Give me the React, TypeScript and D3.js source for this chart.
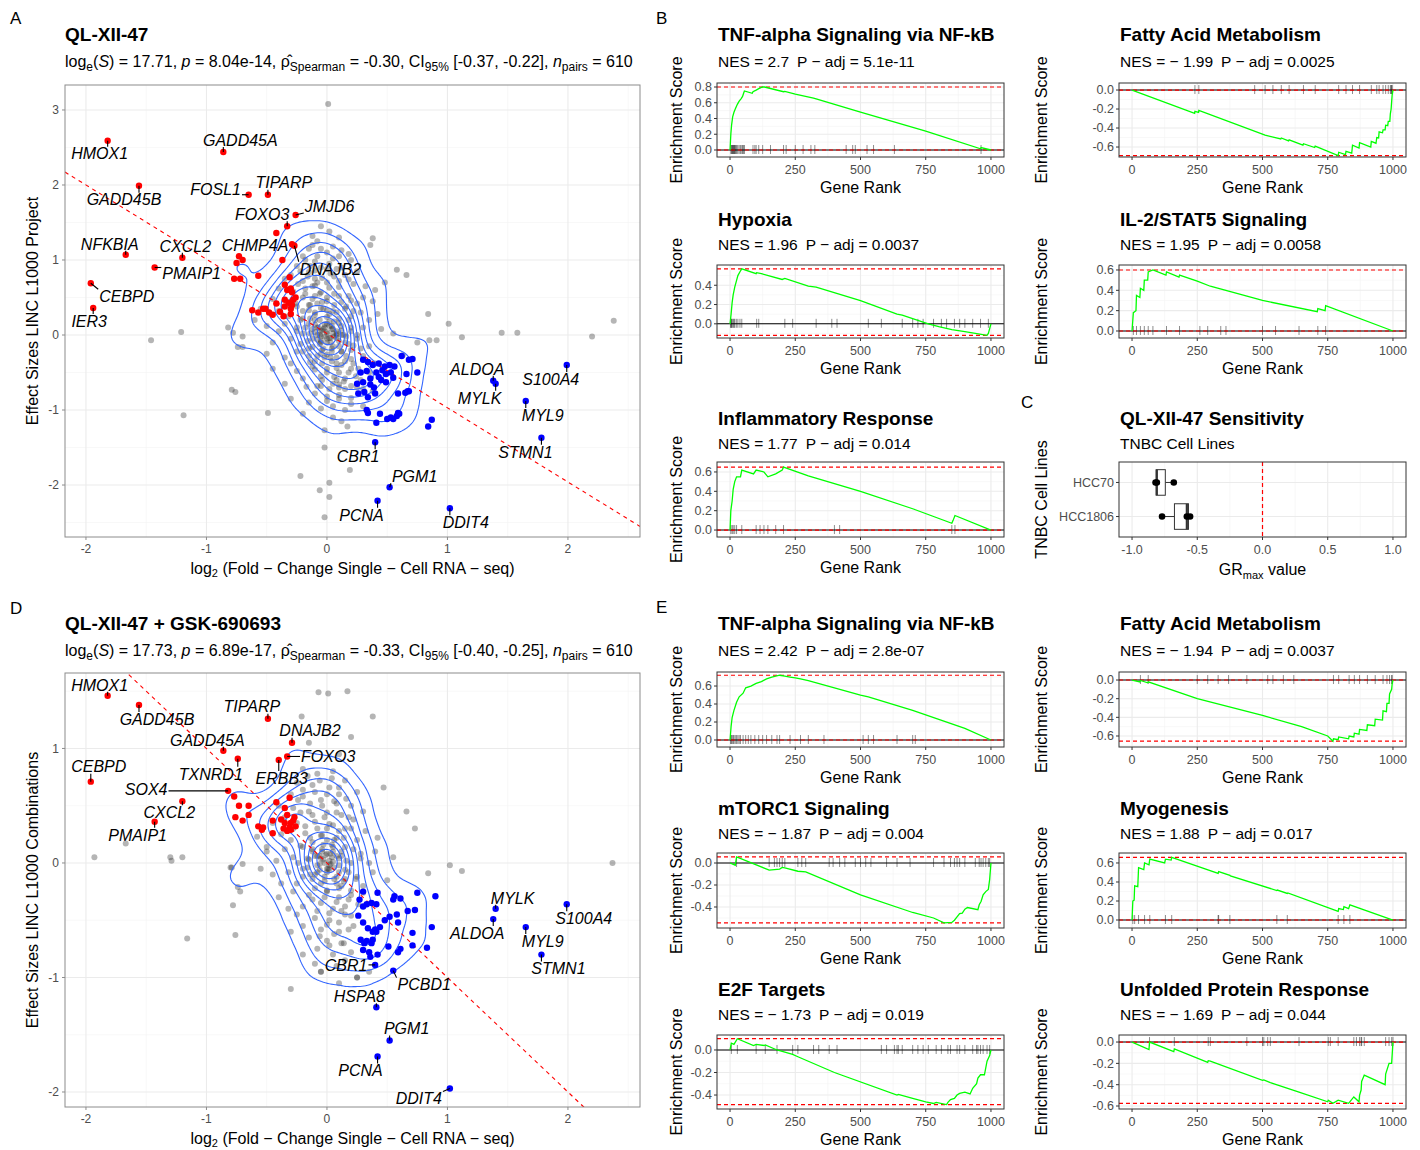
import React from 'react';
import * as d3 from 'd3';

type Pt = [number, number];
const FONT = "'Liberation Sans', Arial, Helvetica, sans-serif";

// ---------------- Panel A data ----------------
const grayA: Pt[] = [
  [-0.05,1.45],[0.02,1.38],[-0.12,1.32],[0.1,1.3],[0.38,1.29],[0.36,1.2],[-0.08,1.25],
  [0.12,1.13],[-0.15,1.15],[0.0,1.1],[-0.2,1.05],[0.05,1.02],[0.2,1.0],[-0.1,0.98],[0.18,1.08],
  [-0.25,0.92],[-0.05,0.9],[0.08,0.88],[0.25,0.85],[-0.15,0.84],[0.58,0.87],[0.66,0.8],[0.03,0.82],[-0.3,0.8],[0.15,0.8],
  [0.48,0.7],[-0.35,0.75],[-0.2,0.72],[-0.08,0.7],[0.1,0.72],[0.22,0.68],[0.32,0.65],[-0.12,0.65],[0.02,0.63],[-0.4,0.62],[0.4,0.6],
  [-0.28,0.58],[-0.18,0.55],[-0.05,0.57],[0.06,0.55],[0.18,0.52],[0.3,0.5],[-0.45,0.48],[-0.3,0.45],[-0.12,0.48],[0.0,0.45],[0.12,0.44],[0.25,0.42],[0.38,0.45],[-0.08,0.42],
  [-0.55,0.35],[-0.4,0.32],[-0.25,0.38],[-0.15,0.33],[-0.05,0.36],[0.05,0.32],[0.15,0.35],[0.28,0.3],[0.42,0.28],[0.84,0.28],[-0.32,0.25],[-0.2,0.22],[-0.1,0.27],[0.0,0.24],[0.1,0.22],[0.2,0.25],[0.35,0.2],[1.01,0.15],[-0.6,0.2],
  [-0.82,0.1],[-0.78,0.03],[-0.5,0.12],[-0.35,0.15],[-0.25,0.1],[-0.15,0.15],[-0.08,0.1],[-0.02,0.14],[0.04,0.08],[0.12,0.12],[0.2,0.05],[0.3,0.1],[0.45,0.08],[-0.4,0.05],[-0.2,0.02],[-0.1,0.04],[0.0,0.02],[0.08,0.0],[0.16,-0.02],[0.55,0.02],[1.12,-0.03],[1.45,0.03],[1.58,0.03],[2.2,-0.02],[2.38,0.19],[0.85,-0.07],[0.91,-0.07],[-1.21,0.04],[-1.46,-0.07],[-0.7,-0.02],
  [-0.74,-0.16],[-0.7,-0.16],[-0.45,-0.1],[-0.3,-0.05],[-0.22,-0.12],[-0.12,-0.05],[-0.05,-0.1],[0.02,-0.04],[0.1,-0.08],[0.18,-0.12],[0.25,-0.05],[0.35,-0.15],[0.75,-0.1],[-0.05,-0.02],[0.05,-0.15],[-0.15,-0.18],
  [-0.5,-0.25],[-0.35,-0.3],[-0.25,-0.22],[-0.15,-0.28],[-0.05,-0.25],[0.03,-0.3],[0.12,-0.22],[0.2,-0.32],[0.3,-0.28],[0.63,-0.27],[-0.1,-0.35],[0.08,-0.38],[-0.3,-0.38],[0.4,-0.38],
  [-0.45,-0.45],[-0.25,-0.48],[-0.12,-0.42],[0.0,-0.45],[0.1,-0.5],[0.2,-0.45],[0.35,-0.5],[-0.05,-0.55],[0.15,-0.58],[-0.2,-0.58],[0.28,-0.6],
  [-0.79,-0.73],[-0.76,-0.76],[-0.35,-0.65],[-0.17,-0.69],[-0.05,-0.68],[0.05,-0.65],[0.15,-0.72],[0.25,-0.7],[-0.1,-0.78],[0.38,-0.75],
  [-0.3,-0.85],[-0.15,-0.9],[0.0,-0.88],[0.1,-0.85],[0.2,-0.92],[-0.05,-0.98],[0.3,-0.95],
  [-0.49,-1.04],[-0.2,-1.05],[0.05,-1.1],[0.17,-1.22],[-0.02,-1.27],[0.12,-1.15],[-1.19,-1.07],
  [-0.02,-1.5],[0.19,-1.8],[-0.22,-1.88],[0.02,-1.97],[-0.06,-2.07],[0.02,-2.16],[-0.02,-2.43],
  [0.01,3.08],
  [-0.05,0.05],[0.0,-0.05],[0.05,0.02],[-0.02,0.1],[0.03,-0.1],[-0.08,0.0],[0.08,0.05],[0.0,0.15],[-0.1,0.2],[0.1,-0.15],[-0.03,-0.18],[0.06,0.18],[-0.06,-0.12],[0.12,0.0],[-0.12,0.08],[0.02,0.28],[-0.02,-0.3],[-0.03,0.35],[0.04,-0.22],[-0.15,0.4],[0.15,-0.35],[-0.06,0.55],[0.08,-0.6],[-0.1,0.75],[0.1,-0.7],
];
// heavily overplotted core of panel A
const grayCoreA: Pt[] = [
  [-0.12,1.2],[-0.05,1.15],[0.05,1.18],[-0.18,1.0],[-0.08,1.05],[0.02,0.95],[0.1,1.05],[-0.14,0.92],
  [-0.22,0.85],[-0.1,0.86],[0.0,0.88],[0.12,0.9],[-0.16,0.78],[-0.04,0.76],[0.06,0.78],[0.18,0.74],[-0.24,0.68],[-0.1,0.66],[0.0,0.7],[0.1,0.64],[-0.18,0.62],
  [-0.2,0.5],[-0.1,0.52],[0.0,0.5],[0.1,0.52],[0.2,0.46],[-0.26,0.42],[-0.14,0.4],[-0.04,0.44],[0.06,0.4],[0.16,0.38],[-0.2,0.32],[-0.1,0.3],[0.0,0.33],[0.08,0.3],[0.22,0.32],[-0.3,0.35],
  [-0.22,0.2],[-0.14,0.22],[-0.06,0.2],[0.02,0.18],[0.1,0.16],[0.18,0.2],[-0.18,0.1],[-0.1,0.14],[-0.03,0.08],[0.04,0.12],[0.12,0.06],[0.2,0.1],[-0.14,0.02],[-0.06,0.0],[0.0,0.04],[0.06,-0.02],[0.14,0.0],[-0.25,0.05],[0.25,0.0],
  [-0.16,-0.08],[-0.08,-0.06],[0.0,-0.1],[0.08,-0.04],[0.15,-0.1],[0.22,-0.14],[-0.12,-0.16],[-0.04,-0.2],[0.04,-0.18],[0.12,-0.22],[0.2,-0.2],[-0.2,-0.22],[0.28,-0.18],[-0.08,-0.28],[0.0,-0.26],[0.08,-0.3],[0.16,-0.28],
  [-0.14,-0.36],[-0.04,-0.38],[0.04,-0.35],[0.12,-0.4],[0.22,-0.38],[-0.1,-0.46],[0.0,-0.5],[0.08,-0.44],[0.18,-0.5],[0.26,-0.45],[-0.04,-0.6],[0.06,-0.56],[0.14,-0.62],[0.24,-0.55],
  [-0.08,-0.68],[0.02,-0.72],[0.1,-0.66],[0.2,-0.68],[0.3,-0.72],[0.0,-0.82],[0.1,-0.8],[0.2,-0.84],[0.05,-0.95],[0.15,-1.0],
  [-0.04,0.06],[0.03,-0.04],[-0.02,-0.02],[0.05,0.08],[-0.07,0.1],[0.02,0.12],[-0.05,-0.08],[0.08,0.02],
];
const redA: Pt[] = [
  [-0.42,1.36],[-0.37,1.0],[-0.73,1.05],[-0.75,0.96],[-0.7,1.0],[-0.77,0.75],[-0.72,0.75],[-0.57,0.79],[-0.31,0.77],[-0.35,0.67],[-0.33,0.6],[-0.3,0.62],[-0.29,0.57],[-0.35,0.47],[-0.28,0.47],[-0.62,0.33],[-0.57,0.3],[-0.53,0.35],[-0.51,0.35],[-0.45,0.27],[-0.39,0.31],[-0.35,0.38],[-0.3,0.35],[-0.29,0.4],[-0.32,0.43],[-0.3,0.28],[-0.36,0.25],[-0.26,0.5],[-0.48,0.3],[-0.42,0.42],
];
const blueA: Pt[] = [
  [0.62,-0.28],[0.68,-0.33],[0.71,-0.32],[0.3,-0.33],[0.34,-0.36],[0.38,-0.4],[0.43,-0.38],[0.48,-0.42],[0.52,-0.4],[0.56,-0.42],[0.28,-0.5],[0.33,-0.48],[0.41,-0.5],[0.49,-0.52],[0.53,-0.5],[0.66,-0.52],[0.25,-0.65],[0.3,-0.63],[0.36,-0.66],[0.39,-0.7],[0.45,-0.6],[0.49,-0.63],[0.26,-0.78],[0.31,-0.76],[0.34,-0.83],[0.4,-0.78],[0.65,-0.77],[0.68,-0.75],[0.33,-1.0],[0.34,-1.04],[0.44,-1.05],[0.5,-1.12],[0.53,-1.1],[0.55,-1.12],[0.58,-1.08],[0.6,-1.05],[0.84,-1.22],[0.87,-1.13],[0.75,-0.5],[0.67,-0.75],[0.59,-0.78],[0.59,-1.04],[0.41,-1.17],[0.43,-0.56],[0.46,-0.47],[0.36,-0.58],[0.55,-0.57],
];
const genesA = [
  { gene: 'HMOX1', x: -1.82, y: 2.59, up: true },
  { gene: 'GADD45A', x: -0.86, y: 2.44, up: true },
  { gene: 'GADD45B', x: -1.56, y: 1.99, up: true },
  { gene: 'FOSL1', x: -0.65, y: 1.87, up: true },
  { gene: 'TIPARP', x: -0.49, y: 1.87, up: true },
  { gene: 'JMJD6', x: -0.26, y: 1.6, up: true },
  { gene: 'FOXO3', x: -0.33, y: 1.45, up: true },
  { gene: 'CHMP4A', x: -0.29, y: 1.21, up: true },
  { gene: 'DNAJB2', x: -0.27, y: 1.19, up: true },
  { gene: 'CXCL2', x: -1.2, y: 1.03, up: true },
  { gene: 'PMAIP1', x: -1.43, y: 0.9, up: true },
  { gene: 'NFKBIA', x: -1.67, y: 1.07, up: true },
  { gene: 'CEBPD', x: -1.96, y: 0.69, up: true },
  { gene: 'IER3', x: -1.94, y: 0.36, up: true },
  { gene: 'ALDOA', x: 1.38, y: -0.61, up: false },
  { gene: 'MYLK', x: 1.4, y: -0.65, up: false },
  { gene: 'S100A4', x: 1.99, y: -0.4, up: false },
  { gene: 'MYL9', x: 1.65, y: -0.88, up: false },
  { gene: 'STMN1', x: 1.78, y: -1.37, up: false },
  { gene: 'CBR1', x: 0.4, y: -1.43, up: false },
  { gene: 'PGM1', x: 0.52, y: -2.03, up: false },
  { gene: 'PCNA', x: 0.42, y: -2.21, up: false },
  { gene: 'DDIT4', x: 1.02, y: -2.31, up: false },
];
const fitA = { slope: -0.99, intercept: 0.02 };
const statsA = { logS: '17.71', p: '8.04e-14', rho: '-0.30', ci: '[-0.37, -0.22]', n: '610' };

// ---------------- Panel D data ----------------
const grayD: Pt[] = [
  [-1.93,0.05],[-1.67,0.17],[-1.3,0.05],[-1.29,0.02],[-1.2,0.05],[-0.8,-0.04],[-0.74,-0.21],[-0.72,-0.25],[-0.7,-0.01],[-0.5,0.14],[-0.21,1.28],[-0.07,1.49],[0.01,1.48],[0.17,1.5],[0.38,1.28],[0.47,0.66],[0.66,0.45],[0.73,0.3],[1.02,-0.02],[1.12,-0.07],[0.84,-0.09],[-0.76,-0.63],[-0.78,-0.37],[-0.79,-0.04],[-0.58,0.23],[2.37,0.0],[-1.16,-0.66],[-0.15,1.05],[0.2,1.1],[0.1,0.95],[-0.3,-1.1],[0.1,-1.05],[0.25,-1.0],[-0.05,-0.95],[0.35,-0.95],
  [-0.2,0.82],[-0.08,0.78],[0.05,0.8],[0.15,0.72],[-0.25,0.7],[-0.12,0.68],[0.02,0.66],[0.25,0.62],[-0.3,0.6],[0.1,0.6],
  [-0.2,0.58],[-0.05,0.55],[0.08,0.52],[0.2,0.5],[-0.4,0.5],[-0.28,0.48],[-0.15,0.45],[0.0,0.44],[0.12,0.42],[0.3,0.45],[-0.35,0.4],[0.22,0.38],
  [-0.45,0.35],[-0.25,0.35],[-0.1,0.36],[0.05,0.33],[0.15,0.3],[0.32,0.28],[-0.38,0.25],[-0.18,0.26],[-0.05,0.24],[0.08,0.22],[0.25,0.2],[0.42,0.22],[-0.3,0.2],[0.0,0.3],
  [-0.5,0.1],[-0.35,0.12],[-0.22,0.15],[-0.12,0.12],[-0.03,0.16],[0.05,0.1],[0.15,0.14],[0.28,0.08],[0.4,0.1],[0.55,0.05],[-0.42,0.02],[-0.28,0.05],[-0.15,0.03],[-0.06,0.06],[0.02,0.02],[0.1,0.04],[0.2,0.0],[0.35,0.0],[-0.55,-0.05],
  [-0.45,-0.1],[-0.32,-0.08],[-0.2,-0.05],[-0.1,-0.1],[0.0,-0.05],[0.08,-0.12],[0.15,-0.06],[0.25,-0.12],[0.38,-0.08],[0.5,-0.15],[-0.38,-0.18],[-0.25,-0.18],[-0.05,-0.18],[0.12,-0.2],[0.3,-0.2],
  [-0.4,-0.3],[-0.28,-0.25],[-0.15,-0.28],[0.0,-0.25],[0.1,-0.3],[0.2,-0.28],[-0.2,-0.38],[-0.05,-0.35],[0.15,-0.38],[0.05,-0.4],[-0.32,-0.4],
  [-0.25,-0.45],[-0.1,-0.48],[0.02,-0.5],[0.15,-0.45],[0.22,-0.55],[-0.2,-0.55],[-0.05,-0.58],[0.1,-0.6],[-0.3,-0.6],
  [-0.15,-0.65],[0.0,-0.68],[0.12,-0.7],[-0.08,-0.75],[0.2,-0.78],[-0.2,-0.8],[0.05,-0.8],
  [-0.1,-0.88],[0.08,-0.9],[0.15,-0.85],[-0.05,-0.95],[0.25,-1.0],
  [-0.02,0.0],[0.02,-0.02],[-0.05,0.04],[0.04,0.05],[0.0,-0.08],[-0.08,-0.02],[0.06,-0.04],[-0.04,0.1],[0.05,0.14],[-0.1,0.06],[0.1,-0.08],[-0.02,-0.12],[0.0,0.2],[-0.12,0.18],[0.08,-0.18],[0.03,0.08],[-0.06,-0.06],[0.12,0.06],[-0.14,-0.1],[0.15,-0.14],
];
// heavily overplotted core of panel D
const grayCoreD: Pt[] = [
  [-0.16,0.76],[-0.06,0.72],[0.04,0.74],[-0.2,0.64],[-0.1,0.62],[0.0,0.6],[0.1,0.66],[-0.24,0.55],[-0.14,0.52],[-0.04,0.5],[0.06,0.54],[0.16,0.56],
  [-0.22,0.44],[-0.12,0.42],[-0.02,0.4],[0.08,0.44],[0.18,0.4],[-0.28,0.3],[-0.18,0.32],[-0.08,0.3],[0.02,0.34],[0.1,0.28],[0.2,0.3],[-0.14,0.22],[-0.04,0.24],[0.06,0.2],[0.14,0.22],
  [-0.2,0.14],[-0.12,0.1],[-0.04,0.12],[0.04,0.16],[0.12,0.1],[0.22,0.12],[-0.16,0.04],[-0.08,0.06],[0.0,0.08],[0.08,0.06],[0.16,0.02],[-0.24,0.0],[0.28,0.04],
  [-0.16,-0.04],[-0.08,-0.08],[0.02,-0.06],[0.1,-0.02],[0.18,-0.08],[-0.12,-0.14],[-0.02,-0.16],[0.06,-0.14],[0.14,-0.16],[0.24,-0.14],[-0.2,-0.12],[-0.1,-0.22],[0.0,-0.24],[0.1,-0.22],[0.2,-0.24],[0.3,-0.26],
  [-0.12,-0.32],[-0.02,-0.3],[0.08,-0.34],[0.18,-0.32],[0.26,-0.36],[-0.08,-0.42],[0.02,-0.44],[0.12,-0.42],[0.2,-0.46],[0.0,-0.54],[0.1,-0.52],[0.18,-0.58],
  [-0.06,-0.64],[0.06,-0.62],[0.14,-0.7],[0.02,-0.72],
  [-0.03,0.03],[0.03,-0.01],[-0.01,0.07],[0.05,0.01],[-0.06,-0.01],[0.01,-0.05],
];
const redD: Pt[] = [
  [-0.77,0.58],[-0.73,0.5],[-0.65,0.5],[-0.76,0.4],[-0.7,0.37],[-0.65,0.42],[-0.57,0.32],[-0.53,0.31],[-0.54,0.29],[-0.45,0.26],[-0.45,0.37],[-0.42,0.53],[-0.35,0.48],[-0.31,0.57],[-0.33,0.42],[-0.28,0.37],[-0.26,0.32],[-0.31,0.31],[-0.36,0.3],[-0.3,0.29],[-0.27,0.4],[-0.3,0.35],[-0.35,0.35],[-0.33,0.28],[-0.38,0.38],
];
const blueD: Pt[] = [
  [0.75,-0.26],[0.9,-0.29],[0.56,-0.29],[0.42,-0.26],[0.3,-0.25],[0.55,-0.32],[0.61,-0.31],[0.27,-0.32],[0.33,-0.36],[0.37,-0.35],[0.3,-0.38],[0.41,-0.36],[0.26,-0.46],[0.52,-0.47],[0.58,-0.45],[0.59,-0.52],[0.67,-0.42],[0.73,-0.41],[0.3,-0.52],[0.34,-0.57],[0.38,-0.6],[0.41,-0.6],[0.4,-0.58],[0.71,-0.61],[0.87,-0.56],[0.28,-0.67],[0.33,-0.68],[0.38,-0.67],[0.37,-0.7],[0.31,-0.7],[0.51,-0.73],[0.59,-0.78],[0.61,-0.75],[0.71,-0.72],[0.83,-0.74],[0.3,-0.76],[0.35,-0.78],[0.42,-0.8],[0.36,-0.82],[0.44,-0.56],[0.48,-0.5],
];
const genesD = [
  { gene: 'HMOX1', x: -1.82, y: 1.46, up: true },
  { gene: 'GADD45B', x: -1.56, y: 1.38, up: true },
  { gene: 'TIPARP', x: -0.49, y: 1.26, up: true },
  { gene: 'GADD45A', x: -0.86, y: 0.98, up: true },
  { gene: 'TXNRD1', x: -0.74, y: 0.91, up: true },
  { gene: 'DNAJB2', x: -0.29, y: 1.05, up: true },
  { gene: 'FOXO3', x: -0.33, y: 0.93, up: true },
  { gene: 'ERBB3', x: -0.4, y: 0.9, up: true },
  { gene: 'SOX4', x: -0.82, y: 0.63, up: true },
  { gene: 'CXCL2', x: -1.2, y: 0.54, up: true },
  { gene: 'PMAIP1', x: -1.43, y: 0.36, up: true },
  { gene: 'CEBPD', x: -1.96, y: 0.71, up: true },
  { gene: 'MYLK', x: 1.4, y: -0.4, up: false },
  { gene: 'ALDOA', x: 1.38, y: -0.49, up: false },
  { gene: 'S100A4', x: 1.99, y: -0.36, up: false },
  { gene: 'MYL9', x: 1.65, y: -0.56, up: false },
  { gene: 'STMN1', x: 1.78, y: -0.8, up: false },
  { gene: 'CBR1', x: 0.4, y: -0.89, up: false },
  { gene: 'PCBD1', x: 0.55, y: -0.94, up: false },
  { gene: 'HSPA8', x: 0.41, y: -1.26, up: false },
  { gene: 'PGM1', x: 0.52, y: -1.55, up: false },
  { gene: 'PCNA', x: 0.42, y: -1.69, up: false },
  { gene: 'DDIT4', x: 1.02, y: -1.97, up: false },
];
const fitD = { slope: -1.0, intercept: 0.0 };
const statsD = { logS: '17.73', p: '6.89e-17', rho: '-0.33', ci: '[-0.40, -0.25]', n: '610' };

const scatterXTicks = [-2, -1, 0, 1, 2];
const yTicksA = [-2, -1, 0, 1, 2, 3];
const yTicksD = [-2, -1, 0, 1];

// label placement (pixel offsets of label centre from its point) — layout only
const labelOffsetsA: Record<string, Pt> = {
  HMOX1: [-8, 13], GADD45A: [17, -12], GADD45B: [-15, 14], FOSL1: [-33, -5], TIPARP: [16, -12],
  JMJD6: [34, -9], FOXO3: [-25, -12], CHMP4A: [-37, 1], DNAJB2: [36, 23], CXCL2: [3, -12],
  PMAIP1: [37, 6], NFKBIA: [-16, -11], CEBPD: [36, 13], IER3: [-4, 13], ALDOA: [-16, -12],
  MYLK: [-16, 14], S100A4: [-16, 14], MYL9: [17, 14], STMN1: [-16, 14], CBR1: [-17, 14],
  PGM1: [25, -11], PCNA: [-16, 14], DDIT4: [16, 14],
};
const labelOffsetsD: Record<string, Pt> = {
  HMOX1: [-8, -11], GADD45B: [18, 14], TIPARP: [-16, -12], GADD45A: [-16, -11], TXNRD1: [-27, 15],
  DNAJB2: [18, -12], FOXO3: [41, 0], ERBB3: [3, 18], SOX4: [-82, -2], CXCL2: [-13, 11],
  PMAIP1: [-17, 13], CEBPD: [8, -15], MYLK: [17, -11], ALDOA: [-16, 14], S100A4: [17, 14],
  MYL9: [17, 14], STMN1: [17, 14], CBR1: [-29, 0], PCBD1: [31, 14], HSPA8: [-17, -11],
  PGM1: [17, -12], PCNA: [-17, 14], DDIT4: [-31, 10],
};

// ---------------- GSEA data ----------------
interface GseaSet { name: string; nes: number; padj: string; yTicks: number[]; yDomain: Pt; curve: Pt[]; hits: number[] }

const gseaB: GseaSet[] = [
  { name: 'TNF-alpha Signaling via NF-kB', nes: 2.7, padj: '5.1e-11', yTicks: [0, 0.2, 0.4, 0.6, 0.8], yDomain: [-0.089, 0.851],
    curve: [[0,0],[3,0.2],[6,0.32],[10,0.42],[15,0.48],[20,0.52],[28,0.58],[35,0.62],[42,0.65],[48,0.68],[52,0.72],[55,0.75],[85,0.72],[88,0.74],[100,0.76],[110,0.78],[125,0.8],[132,0.8],[205,0.74],[210,0.745],[250,0.71],[320,0.66],[330,0.65],[500,0.48],[750,0.24],[960,0.015],[962,0.03],[1000,0]],
    hits: [3,6,8,10,12,14,16,18,20,23,26,30,35,40,45,48,52,55,88,95,100,110,125,155,205,215,250,280,310,325,445,470,480,525,550,630,962] },
  { name: 'Fatty Acid Metabolism', nes: -1.99, padj: '0.0025', yTicks: [-0.6, -0.4, -0.2, 0], yDomain: [-0.705, 0.074],
    curve: [[0,0],[240,-0.245],[241,-0.225],[255,-0.235],[256,-0.215],[510,-0.475],[570,-0.515],[572,-0.505],[600,-0.535],[602,-0.525],[655,-0.58],[657,-0.565],[700,-0.605],[702,-0.59],[790,-0.69],[792,-0.655],[818,-0.68],[820,-0.645],[842,-0.665],[845,-0.58],[870,-0.61],[872,-0.555],[915,-0.6],[917,-0.54],[935,-0.56],[938,-0.5],[945,-0.505],[947,-0.44],[960,-0.45],[962,-0.42],[970,-0.42],[972,-0.37],[980,-0.375],[982,-0.33],[988,-0.33],[990,-0.25],[993,-0.2],[995,-0.12],[997,-0.05],[1000,0]],
    hits: [241,256,470,510,540,572,602,657,702,792,820,845,872,917,938,947,962,972,982,990,993,995,997] },
  { name: 'Hypoxia', nes: 1.96, padj: '0.0037', yTicks: [0, 0.2, 0.4], yDomain: [-0.147, 0.61],
    curve: [[0,0],[4,0.1],[8,0.22],[12,0.3],[18,0.38],[24,0.44],[30,0.5],[38,0.54],[45,0.57],[100,0.52],[102,0.53],[120,0.52],[200,0.46],[210,0.47],[300,0.39],[330,0.38],[500,0.24],[640,0.1],[660,0.09],[760,0.0],[800,-0.03],[850,-0.06],[900,-0.08],[940,-0.1],[985,-0.12],[990,-0.1],[1000,0]],
    hits: [2,4,6,8,12,15,18,24,30,38,45,102,110,210,240,330,390,410,530,580,660,700,720,740,780,810,830,860,880,900,930,960,990] },
  { name: 'IL-2/STAT5 Signaling', nes: 1.95, padj: '0.0058', yTicks: [0, 0.2, 0.4, 0.6], yDomain: [-0.069, 0.649],
    curve: [[0,0],[5,0.18],[15,0.2],[17,0.35],[30,0.33],[32,0.42],[45,0.4],[47,0.5],[60,0.5],[62,0.58],[80,0.6],[130,0.55],[132,0.58],[180,0.53],[182,0.55],[250,0.49],[300,0.44],[500,0.3],[710,0.19],[712,0.22],[740,0.2],[742,0.25],[1000,0]],
    hits: [5,17,32,47,62,80,132,182,260,290,340,360,500,550,640,712,742] },
  { name: 'Inflammatory Response', nes: 1.77, padj: '0.014', yTicks: [0, 0.2, 0.4, 0.6], yDomain: [-0.072, 0.703],
    curve: [[0,0],[3,0.2],[8,0.3],[12,0.42],[18,0.5],[25,0.55],[40,0.55],[45,0.62],[90,0.58],[100,0.62],[130,0.6],[145,0.55],[175,0.58],[200,0.62],[205,0.65],[300,0.56],[500,0.4],[700,0.22],[850,0.07],[855,0.1],[862,0.15],[1000,0]],
    hits: [3,8,12,18,25,45,100,115,130,145,175,205,400,420,850,862] },
];

const gseaE: GseaSet[] = [
  { name: 'TNF-alpha Signaling via NF-kB', nes: 2.42, padj: '2.8e-07', yTicks: [0, 0.2, 0.4, 0.6], yDomain: [-0.078, 0.756],
    curve: [[0,0],[4,0.15],[8,0.25],[15,0.33],[25,0.42],[35,0.48],[50,0.52],[60,0.58],[80,0.6],[100,0.63],[120,0.65],[140,0.68],[160,0.7],[190,0.72],[210,0.71],[230,0.7],[250,0.69],[270,0.68],[300,0.66],[500,0.5],[530,0.48],[700,0.33],[900,0.13],[1000,0]],
    hits: [2,5,8,12,15,20,25,30,35,40,50,60,70,80,95,110,125,140,160,180,190,230,270,300,360,510,530,550,640,700,710] },
  { name: 'Fatty Acid Metabolism', nes: -1.94, padj: '0.0037', yTicks: [-0.6, -0.4, -0.2, 0], yDomain: [-0.718, 0.086],
    curve: [[0,0],[30,-0.02],[32,-0.005],[60,-0.03],[62,-0.02],[250,-0.2],[500,-0.38],[650,-0.5],[750,-0.6],[770,-0.655],[772,-0.63],[790,-0.64],[792,-0.61],[830,-0.63],[832,-0.6],[850,-0.61],[852,-0.57],[870,-0.58],[872,-0.53],[900,-0.54],[902,-0.48],[930,-0.49],[932,-0.42],[960,-0.43],[962,-0.33],[975,-0.34],[977,-0.25],[985,-0.25],[987,-0.15],[995,-0.1],[997,-0.04],[1000,0]],
    hits: [32,62,250,290,330,370,440,520,540,580,620,772,792,832,852,872,902,932,962,977,987,995,997] },
  { name: 'mTORC1 Signaling', nes: -1.87, padj: '0.004', yTicks: [-0.4, -0.2, 0], yDomain: [-0.591, 0.091],
    curve: [[0,0],[20,-0.02],[25,0.055],[150,-0.065],[170,-0.06],[190,-0.055],[200,-0.04],[210,-0.045],[260,-0.075],[290,-0.08],[500,-0.29],[700,-0.45],[780,-0.5],[820,-0.545],[850,-0.54],[860,-0.52],[870,-0.49],[880,-0.46],[890,-0.455],[900,-0.42],[910,-0.405],[950,-0.425],[955,-0.38],[962,-0.35],[970,-0.29],[980,-0.26],[990,-0.24],[995,-0.15],[1000,0]],
    hits: [25,150,170,180,190,200,210,260,275,290,380,395,420,440,480,500,520,540,600,640,690,780,820,845,860,870,880,900,940,955,962,970,980,990,995] },
  { name: 'Myogenesis', nes: 1.88, padj: '0.017', yTicks: [0, 0.2, 0.4, 0.6], yDomain: [-0.084, 0.705],
    curve: [[0,0],[3,0.2],[8,0.21],[10,0.36],[22,0.35],[25,0.55],[45,0.53],[48,0.6],[65,0.58],[68,0.64],[125,0.6],[128,0.64],[150,0.63],[152,0.66],[330,0.49],[332,0.51],[375,0.47],[377,0.465],[555,0.31],[557,0.315],[595,0.28],[597,0.285],[790,0.09],[792,0.12],[810,0.11],[812,0.14],[830,0.12],[835,0.16],[1000,0]],
    hits: [3,10,25,48,68,128,152,330,332,375,555,595,790,812,835] },
  { name: 'E2F Targets', nes: -1.73, padj: '0.019', yTicks: [-0.4, -0.2, 0], yDomain: [-0.524, 0.133],
    curve: [[0,0],[5,0.06],[15,0.05],[28,0.1],[90,0.04],[100,0.05],[130,0.04],[135,0.045],[180,0.0],[240,-0.04],[260,-0.06],[400,-0.2],[640,-0.4],[645,-0.395],[700,-0.43],[750,-0.46],[780,-0.475],[790,-0.465],[830,-0.485],[835,-0.465],[845,-0.44],[860,-0.43],[870,-0.4],[880,-0.385],[900,-0.375],[920,-0.39],[930,-0.34],[945,-0.3],[950,-0.25],[960,-0.22],[975,-0.22],[985,-0.1],[995,-0.05],[1000,0]],
    hits: [5,28,100,135,180,240,260,320,340,380,410,580,600,630,640,645,660,700,720,740,760,790,810,835,845,870,880,900,930,945,950,960,970,985,995] },
  { name: 'Unfolded Protein Response', nes: -1.69, padj: '0.044', yTicks: [-0.6, -0.4, -0.2, 0], yDomain: [-0.628, 0.066],
    curve: [[0,0],[65,-0.07],[67,0.0],[160,-0.09],[162,-0.065],[290,-0.19],[292,-0.175],[300,-0.18],[500,-0.36],[505,-0.355],[530,-0.38],[640,-0.47],[750,-0.56],[752,-0.545],[770,-0.575],[790,-0.545],[830,-0.575],[850,-0.515],[870,-0.56],[872,-0.5],[878,-0.45],[880,-0.37],[890,-0.31],[970,-0.4],[972,-0.3],[985,-0.2],[995,-0.2],[1000,0]],
    hits: [67,162,292,300,440,500,505,520,530,640,752,760,790,850,860,872,878,880,890,972,985,995,1000] },
];
const rankTicks = [0, 250, 500, 750, 1000];

// ---------------- Panel C data ----------------
const cellLines = ['HCC70', 'HCC1806'];
const grmaxValues: Record<string, number[]> = {
  HCC70: [-0.82, -0.81, -0.68],
  HCC1806: [-0.77, -0.58, -0.555],
};
const grTicks = [-1.0, -0.5, 0.0, 0.5, 1.0];

// ---------------- layout ----------------
const scatterLayoutA = { left: 65, right: 640, top: 85, bottom: 537, xDomain: [-2.174, 2.598] as Pt, yDomain: [-2.693, 3.333] as Pt };
const scatterLayoutD = { left: 65, right: 640, top: 673, bottom: 1107, xDomain: [-2.174, 2.598] as Pt, yDomain: [-2.131, 1.659] as Pt };
const gseaCols = [{ left: 717, right: 1004, ylab: 676 }, { left: 1119, right: 1406, ylab: 1041 }];
const gseaRowsB = [
  { title: 41, sub: 67, top: 83, bottom: 157 },
  { title: 226, sub: 250, top: 265, bottom: 338 },
  { title: 425, sub: 449, top: 462, bottom: 537 },
];
const gseaRowsE = [
  { title: 630, sub: 656, top: 672, bottom: 747 },
  { title: 815, sub: 839, top: 853, bottom: 928 },
  { title: 996, sub: 1020, top: 1035, bottom: 1109 },
];

const GRID = '#EBEBEB';
const GRID_MINOR = '#F4F4F4';
const TICK_TXT = '#4D4D4D';

let measureCtx: CanvasRenderingContext2D | null = null;
function textWidth(s: string, font: string) {
  if (!measureCtx && typeof document !== 'undefined') measureCtx = document.createElement('canvas').getContext('2d');
  if (!measureCtx) return s.length * 9;
  measureCtx.font = font;
  return measureCtx.measureText(s).width;
}

function minorBreaks(ticks: number[], domain: Pt) {
  const step = ticks[1] - ticks[0];
  const out: number[] = [];
  for (let i = -1; i < ticks.length; i++) {
    const v = ticks[0] + step * (i + 0.5);
    if (v > Math.min(...domain) && v < Math.max(...domain)) out.push(v);
  }
  return out;
}

const Sub = ({ children }: { children: React.ReactNode }) => (
  <tspan fontSize={12} dy={4}>{children}</tspan>
);

function StatsSubtitle({ x, y, s }: { x: number; y: number; s: typeof statsA }) {
  return (
    <text x={x} y={y} fontSize={16} fontFamily={FONT} fill="#000">
      <tspan>log</tspan><Sub>e</Sub><tspan dy={-4}>(</tspan><tspan fontStyle="italic">S</tspan>
      <tspan>{`) = ${s.logS}, `}</tspan><tspan fontStyle="italic">p</tspan>
      <tspan>{` = ${s.p}, ρ̂`}</tspan><Sub>Spearman</Sub>
      <tspan dy={-4}>{` = ${s.rho}, CI`}</tspan><Sub>95%</Sub>
      <tspan dy={-4}>{` ${s.ci}, `}</tspan><tspan fontStyle="italic">n</tspan><Sub>pairs</Sub>
      <tspan dy={-4}>{` = ${s.n}`}</tspan>
    </text>
  );
}

interface Gene { gene: string; x: number; y: number; up: boolean }

function Scatter(props: {
  id: string; L: typeof scatterLayoutA; gray: Pt[]; core: Pt[]; red: Pt[]; blue: Pt[]; genes: Gene[];
  fit: { slope: number; intercept: number }; offsets: Record<string, Pt>; yTicks: number[];
  nLevels: number; bw: number; ylabel: string;
}) {
  const { id, L, gray, core, red, blue, genes, fit, offsets, yTicks, nLevels, bw, ylabel } = props;
  const x = d3.scaleLinear().domain(L.xDomain).range([L.left, L.right]);
  const y = d3.scaleLinear().domain(L.yDomain).range([L.bottom, L.top]);
  const w = L.right - L.left, h = L.bottom - L.top;
  const grayAll = [...gray, ...core];
  const allPts: Pt[] = [...grayAll, ...red, ...blue, ...genes.map(g => [g.x, g.y] as Pt)];
  const dens = d3.contourDensity<Pt>()
    .x(d => x(d[0]) - L.left).y(d => y(d[1]) - L.top)
    .size([w, h]).cellSize(2).bandwidth(bw);
  const cf: any = (dens as any).contours(allPts);
  const levels = d3.range(1, nLevels + 1).map(k => (k * cf.max) / (nLevels + 1));
  const geo = d3.geoPath();
  const xMinor = minorBreaks(scatterXTicks, L.xDomain);
  const yMinor = minorBreaks(yTicks, L.yDomain);
  const lineX = L.xDomain;
  const labelFont = `italic 16px ${FONT}`;
  return (
    <g>
      <defs>
        <clipPath id={`clip-${id}`}><rect x={L.left} y={L.top} width={w} height={h} /></clipPath>
      </defs>
      <rect x={L.left} y={L.top} width={w} height={h} fill="#fff" />
      {xMinor.map(v => <line key={'xm' + v} x1={x(v)} x2={x(v)} y1={L.top} y2={L.bottom} stroke={GRID_MINOR} strokeWidth={0.6} />)}
      {yMinor.map(v => <line key={'ym' + v} y1={y(v)} y2={y(v)} x1={L.left} x2={L.right} stroke={GRID_MINOR} strokeWidth={0.6} />)}
      {scatterXTicks.map(v => <line key={'x' + v} x1={x(v)} x2={x(v)} y1={L.top} y2={L.bottom} stroke={GRID} strokeWidth={1.1} />)}
      {yTicks.map(v => <line key={'y' + v} y1={y(v)} y2={y(v)} x1={L.left} x2={L.right} stroke={GRID} strokeWidth={1.1} />)}
      <g clipPath={`url(#clip-${id})`}>
        {grayAll.map((d, i) => <circle key={'g' + i} cx={x(d[0])} cy={y(d[1])} r={3} fill="#333" fillOpacity={0.36} />)}
        <g transform={`translate(${L.left},${L.top})`}>
          {levels.map((lv, i) => <path key={'c' + i} d={geo(cf(lv)) || ''} fill="none" stroke="#3366FF" strokeWidth={1.1} />)}
        </g>
        <line x1={x(lineX[0])} y1={y(fit.intercept + fit.slope * lineX[0])} x2={x(lineX[1])} y2={y(fit.intercept + fit.slope * lineX[1])}
          stroke="#FF0000" strokeWidth={1.1} strokeDasharray="4,4" />
        {red.map((d, i) => <circle key={'r' + i} cx={x(d[0])} cy={y(d[1])} r={3.2} fill="#FF0000" />)}
        {blue.map((d, i) => <circle key={'b' + i} cx={x(d[0])} cy={y(d[1])} r={3.2} fill="#0000FF" />)}
        {genes.map(g => <circle key={'gp' + g.gene} cx={x(g.x)} cy={y(g.y)} r={3.2} fill={g.up ? '#FF0000' : '#0000FF'} />)}
      </g>
      {genes.map(g => {
        const px = x(g.x), py = y(g.y);
        const off = offsets[g.gene] || [0, 0];
        const cx = px + off[0], cy = py + off[1];
        const tw = textWidth(g.gene, labelFont);
        const bx0 = cx - tw / 2 - 1, bx1 = cx + tw / 2 + 1, by0 = cy - 7, by1 = cy + 7;
        const qx = Math.max(bx0, Math.min(px, bx1));
        const qy = Math.max(by0, Math.min(py, by1));
        const dist = Math.hypot(qx - px, qy - py);
        return (
          <g key={'lab' + g.gene}>
            {dist > 3 && <line x1={px} y1={py} x2={qx} y2={qy} stroke="#000" strokeWidth={1.1} />}
            <text x={cx} y={cy} dy="0.36em" textAnchor="middle" fontSize={16} fontStyle="italic" fontFamily={FONT} fill="#000">{g.gene}</text>
          </g>
        );
      })}
      <rect x={L.left} y={L.top} width={w} height={h} fill="none" stroke="#8C8C8C" strokeWidth={1} />
      {scatterXTicks.map(v => (
        <g key={'xt' + v}>
          <line x1={x(v)} x2={x(v)} y1={L.bottom} y2={L.bottom + 3} stroke="#8C8C8C" />
          <text x={x(v)} y={L.bottom + 16} textAnchor="middle" fontSize={12} fontFamily={FONT} fill={TICK_TXT}>{v}</text>
        </g>
      ))}
      {yTicks.map(v => (
        <g key={'yt' + v}>
          <line x1={L.left - 3} x2={L.left} y1={y(v)} y2={y(v)} stroke="#8C8C8C" />
          <text x={L.left - 6} y={y(v)} dy="0.35em" textAnchor="end" fontSize={12} fontFamily={FONT} fill={TICK_TXT}>{v}</text>
        </g>
      ))}
      <text x={(L.left + L.right) / 2} y={L.bottom + 37} textAnchor="middle" fontSize={16} fontFamily={FONT} fill="#000">
        <tspan>log</tspan><tspan fontSize={11} dy={3}>2</tspan><tspan dy={-3}>{' (Fold − Change Single − Cell RNA − seq)'}</tspan>
      </text>
      <text transform={`translate(32,${(L.top + L.bottom) / 2}) rotate(-90)`} textAnchor="middle" dy="0.35em" fontSize={16} fontFamily={FONT} fill="#000">{ylabel}</text>
    </g>
  );
}

function fmtTick(v: number) {
  return (Math.abs(v) < 1e-9 ? 0 : v).toFixed(1);
}

function GseaPanel({ s, col, row }: { s: GseaSet; col: typeof gseaCols[0]; row: typeof gseaRowsB[0] }) {
  const x = d3.scaleLinear().domain([-50, 1050]).range([col.left, col.right]);
  const y = d3.scaleLinear().domain(s.yDomain).range([row.bottom, row.top]);
  const line = d3.line<Pt>().x(d => x(d[0])).y(d => y(d[1]));
  const esMax = d3.max(s.curve, d => d[1]) as number;
  const esMin = d3.min(s.curve, d => d[1]) as number;
  const xMinor = minorBreaks(rankTicks, [-50, 1050]);
  const yMinor = minorBreaks(s.yTicks, s.yDomain);
  const w = col.right - col.left, h = row.bottom - row.top;
  const nesTxt = s.nes < 0 ? `− ${Math.abs(s.nes)}` : `${s.nes}`;
  return (
    <g>
      <rect x={col.left} y={row.top} width={w} height={h} fill="#fff" />
      {xMinor.map(v => <line key={'xm' + v} x1={x(v)} x2={x(v)} y1={row.top} y2={row.bottom} stroke={GRID_MINOR} strokeWidth={0.6} />)}
      {yMinor.map(v => <line key={'ym' + v} y1={y(v)} y2={y(v)} x1={col.left} x2={col.right} stroke={GRID_MINOR} strokeWidth={0.6} />)}
      {rankTicks.map(v => <line key={'x' + v} x1={x(v)} x2={x(v)} y1={row.top} y2={row.bottom} stroke={GRID} strokeWidth={1.1} />)}
      {s.yTicks.map(v => <line key={'y' + v} y1={y(v)} y2={y(v)} x1={col.left} x2={col.right} stroke={GRID} strokeWidth={1.1} />)}
      {s.hits.map((r, i) => <line key={'h' + i} x1={x(r)} x2={x(r)} y1={y(0) - 5} y2={y(0) + 4} stroke="#000" strokeOpacity={0.45} strokeWidth={1} />)}
      <line x1={col.left} x2={col.right} y1={y(0)} y2={y(0)} stroke="#000" strokeWidth={1.1} />
      <line x1={col.left} x2={col.right} y1={y(esMax)} y2={y(esMax)} stroke="#FF0000" strokeWidth={1.2} strokeDasharray="4,3" />
      <line x1={col.left} x2={col.right} y1={y(esMin)} y2={y(esMin)} stroke="#FF0000" strokeWidth={1.2} strokeDasharray="4,3" />
      <path d={line(s.curve) || ''} fill="none" stroke="#00FF00" strokeWidth={1.3} />
      <rect x={col.left} y={row.top} width={w} height={h} fill="none" stroke="#333" strokeWidth={1} />
      {rankTicks.map(v => (
        <g key={'xt' + v}>
          <line x1={x(v)} x2={x(v)} y1={row.bottom} y2={row.bottom + 3} stroke="#333" />
          <text x={x(v)} y={row.bottom + 17} textAnchor="middle" fontSize={12.5} fontFamily={FONT} fill={TICK_TXT}>{v}</text>
        </g>
      ))}
      {s.yTicks.map(v => (
        <g key={'yt' + v}>
          <line x1={col.left - 3} x2={col.left} y1={y(v)} y2={y(v)} stroke="#333" />
          <text x={col.left - 5} y={y(v)} dy="0.35em" textAnchor="end" fontSize={12.5} fontFamily={FONT} fill={TICK_TXT}>{fmtTick(v)}</text>
        </g>
      ))}
      <text x={(col.left + col.right) / 2} y={row.bottom + 36} textAnchor="middle" fontSize={16} fontFamily={FONT} fill="#000">Gene Rank</text>
      <text transform={`translate(${col.ylab},${(row.top + row.bottom) / 2}) rotate(-90)`} textAnchor="middle" dy="0.35em" fontSize={16} fontFamily={FONT} fill="#000">Enrichment Score</text>
      <text x={col.left + 1} y={row.title} fontSize={19} fontWeight="bold" fontFamily={FONT} fill="#000">{s.name}</text>
      <text x={col.left + 1} y={row.sub} fontSize={15.5} fontFamily={FONT} fill="#000">
        <tspan>{`NES = ${nesTxt}`}</tspan><tspan dx={8}>{`P − adj = ${s.padj}`}</tspan>
      </text>
    </g>
  );
}

function PanelC() {
  const col = gseaCols[1];
  const row = gseaRowsB[2];
  const x = d3.scaleLinear().domain([-1.1, 1.1]).range([col.left, col.right]);
  const yS = d3.scalePoint<string>().domain(cellLines).range([row.top, row.bottom]).padding(0.6);
  const step = yS.step();
  const xMinor = minorBreaks(grTicks, [-1.1, 1.1]);
  const w = col.right - col.left, h = row.bottom - row.top;
  return (
    <g>
      <rect x={col.left} y={row.top} width={w} height={h} fill="#fff" />
      {xMinor.map(v => <line key={'xm' + v} x1={x(v)} x2={x(v)} y1={row.top} y2={row.bottom} stroke={GRID_MINOR} strokeWidth={0.6} />)}
      {grTicks.map(v => <line key={'x' + v} x1={x(v)} x2={x(v)} y1={row.top} y2={row.bottom} stroke={GRID} strokeWidth={1.1} />)}
      {cellLines.map(c => <line key={'y' + c} x1={col.left} x2={col.right} y1={yS(c)} y2={yS(c)} stroke={GRID} strokeWidth={1.1} />)}
      <line x1={x(0)} x2={x(0)} y1={row.top} y2={row.bottom} stroke="#FF0000" strokeWidth={1.2} strokeDasharray="4,3" />
      {cellLines.map(c => {
        const vals = [...grmaxValues[c]].sort(d3.ascending);
        const q1 = d3.quantile(vals, 0.25) as number;
        const med = d3.quantile(vals, 0.5) as number;
        const q3 = d3.quantile(vals, 0.75) as number;
        const iqr = q3 - q1;
        const lo = d3.min(vals.filter(v => v >= q1 - 1.5 * iqr)) as number;
        const hi = d3.max(vals.filter(v => v <= q3 + 1.5 * iqr)) as number;
        const cy = yS(c) as number;
        const bh = step * 0.75;
        return (
          <g key={c}>
            <line x1={x(lo)} x2={x(q1)} y1={cy} y2={cy} stroke="#333" strokeWidth={1} />
            <line x1={x(q3)} x2={x(hi)} y1={cy} y2={cy} stroke="#333" strokeWidth={1} />
            <rect x={x(q1)} y={cy - bh / 2} width={x(q3) - x(q1)} height={bh} fill="#fff" stroke="#333" strokeWidth={1} />
            <line x1={x(med)} x2={x(med)} y1={cy - bh / 2} y2={cy + bh / 2} stroke="#333" strokeWidth={2.2} />
            {vals.map((v, i) => <circle key={i} cx={x(v)} cy={cy} r={3.3} fill="#000" />)}
          </g>
        );
      })}
      <rect x={col.left} y={row.top} width={w} height={h} fill="none" stroke="#333" strokeWidth={1} />
      {grTicks.map(v => (
        <g key={'xt' + v}>
          <line x1={x(v)} x2={x(v)} y1={row.bottom} y2={row.bottom + 3} stroke="#333" />
          <text x={x(v)} y={row.bottom + 17} textAnchor="middle" fontSize={12.5} fontFamily={FONT} fill={TICK_TXT}>{v.toFixed(1)}</text>
        </g>
      ))}
      {cellLines.map(c => (
        <g key={'yt' + c}>
          <line x1={col.left - 3} x2={col.left} y1={yS(c)} y2={yS(c)} stroke="#333" />
          <text x={col.left - 5} y={yS(c)} dy="0.35em" textAnchor="end" fontSize={12.5} fontFamily={FONT} fill={TICK_TXT}>{c}</text>
        </g>
      ))}
      <text x={(col.left + col.right) / 2} y={row.bottom + 38} textAnchor="middle" fontSize={16} fontFamily={FONT} fill="#000">
        <tspan>GR</tspan><tspan fontSize={11} dy={4}>max</tspan><tspan dy={-4}>{' value'}</tspan>
      </text>
      <text transform={`translate(${col.ylab},${(row.top + row.bottom) / 2}) rotate(-90)`} textAnchor="middle" dy="0.35em" fontSize={16} fontFamily={FONT} fill="#000">TNBC Cell Lines</text>
      <text x={col.left + 1} y={row.title} fontSize={19} fontWeight="bold" fontFamily={FONT} fill="#000">QL-XII-47 Sensitivity</text>
      <text x={col.left + 1} y={row.sub} fontSize={15.5} fontFamily={FONT} fill="#000">TNBC Cell Lines</text>
    </g>
  );
}

export default function App() {
  const gseaPanelsB = [
    { s: gseaB[0], col: 0, row: 0 }, { s: gseaB[1], col: 1, row: 0 },
    { s: gseaB[2], col: 0, row: 1 }, { s: gseaB[3], col: 1, row: 1 },
    { s: gseaB[4], col: 0, row: 2 },
  ];
  const gseaPanelsE = gseaE.map((s, i) => ({ s, col: i % 2, row: Math.floor(i / 2) }));
  return (
    <svg width={1420} height={1150} style={{ position: 'absolute', left: 0, top: 0, background: '#fff' }} fontFamily={FONT}>
      <rect x={0} y={0} width={1420} height={1150} fill="#fff" />
      {/* Panel A */}
      <text x={10} y={24} fontSize={17} fontFamily={FONT}>A</text>
      <text x={65} y={41} fontSize={19} fontWeight="bold" fontFamily={FONT}>QL-XII-47</text>
      <StatsSubtitle x={65} y={67} s={statsA} />
      <Scatter id="A" L={scatterLayoutA} gray={grayA} core={grayCoreA} red={redA} blue={blueA} genes={genesA} fit={fitA}
        offsets={labelOffsetsA} yTicks={yTicksA} nLevels={12} bw={14} ylabel="Effect Sizes LINC L1000 Project" />
      {/* Panel D */}
      <text x={10} y={614} fontSize={17} fontFamily={FONT}>D</text>
      <text x={65} y={630} fontSize={19} fontWeight="bold" fontFamily={FONT}>QL-XII-47 + GSK-690693</text>
      <StatsSubtitle x={65} y={656} s={statsD} />
      <Scatter id="D" L={scatterLayoutD} gray={grayD} core={grayCoreD} red={redD} blue={blueD} genes={genesD} fit={fitD}
        offsets={labelOffsetsD} yTicks={yTicksD} nLevels={10} bw={14} ylabel="Effect Sizes LINC L1000 Combinations" />
      {/* Panel B */}
      <text x={656} y={24} fontSize={17} fontFamily={FONT}>B</text>
      {gseaPanelsB.map((p, i) => <GseaPanel key={'B' + i} s={p.s} col={gseaCols[p.col]} row={gseaRowsB[p.row]} />)}
      {/* Panel C */}
      <text x={1021} y={408} fontSize={17} fontFamily={FONT}>C</text>
      <PanelC />
      {/* Panel E */}
      <text x={656} y={613} fontSize={17} fontFamily={FONT}>E</text>
      {gseaPanelsE.map((p, i) => <GseaPanel key={'E' + i} s={p.s} col={gseaCols[p.col]} row={gseaRowsE[p.row]} />)}
    </svg>
  );
}
